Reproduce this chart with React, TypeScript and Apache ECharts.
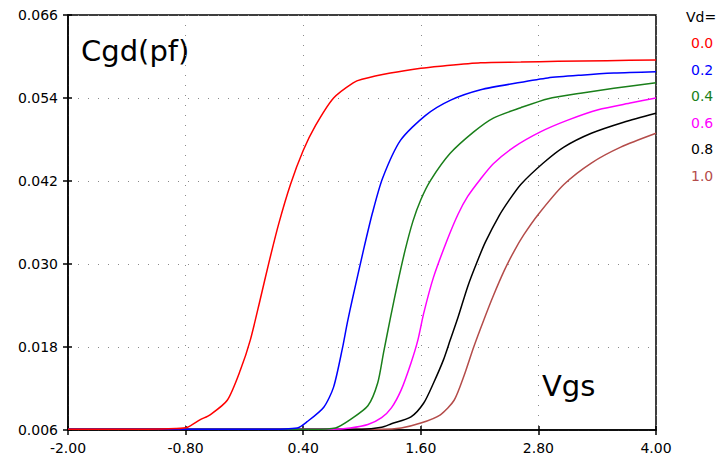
import React, { useEffect, useRef } from "react";
import * as echarts from "echarts";

const FONT = "DejaVu Sans";

const legendTitle = "Vd=";
const seriesNames = ["0.0", "0.2", "0.4", "0.6", "0.8", "1.0"];
const seriesColors = ["#ff0000", "#0000ff", "#1a7f1a", "#ff00ff", "#000000", "#b44c4a"];

const xTicks = { min: -2, max: 4, interval: 1.2 };
const yTicks = { min: 0.006, max: 0.066, interval: 0.012 };

const vd00: [number, number][] = [
  [-2.0, 0.0061], [-1.2, 0.0061], [-0.9, 0.0062], [-0.78, 0.0064], [-0.65, 0.0075],
  [-0.55, 0.0082], [-0.375, 0.0103], [-0.24, 0.0147], [-0.14, 0.019], [-0.04, 0.0248],
  [0.05, 0.0302], [0.15, 0.0358], [0.27, 0.0415], [0.4, 0.0464], [0.525, 0.05],
  [0.71, 0.054], [0.91, 0.0562], [1.0, 0.0567], [1.29, 0.0576], [1.6, 0.0583],
  [1.8, 0.0586], [2.21, 0.0591], [2.62, 0.0592], [3.0, 0.0593], [3.5, 0.0594], [4.0, 0.0595],
];
const vd02: [number, number][] = [
  [-2.0, 0.0061], [0.0, 0.0061], [0.34, 0.0063], [0.44, 0.0072], [0.61, 0.0093],
  [0.71, 0.0122], [0.8, 0.0178], [0.85, 0.0215], [0.9, 0.0248], [1.015, 0.032],
  [1.107, 0.0374], [1.21, 0.0424], [1.394, 0.0479], [1.649, 0.0515], [1.905, 0.0537],
  [2.211, 0.0552], [2.59, 0.0562], [2.896, 0.0569], [3.234, 0.0573], [3.571, 0.0576], [4.0, 0.0578],
];
const vd04: [number, number][] = [
  [-2.0, 0.0061], [0.5, 0.0061], [0.73, 0.0063], [0.88, 0.0075], [1.06, 0.0095],
  [1.16, 0.0128], [1.22, 0.0172], [1.29, 0.0222], [1.36, 0.027], [1.44, 0.032],
  [1.52, 0.0362], [1.6, 0.0393], [1.7, 0.0421], [1.9, 0.046], [2.14, 0.0491],
  [2.34, 0.0511], [2.62, 0.0526], [2.9, 0.0539], [3.23, 0.0547], [3.57, 0.0554], [4.0, 0.0562],
];
const vd06: [number, number][] = [
  [-2.0, 0.0061], [0.7, 0.0061], [0.88, 0.0063], [1.06, 0.0068], [1.2, 0.0078],
  [1.3, 0.0092], [1.4, 0.0118], [1.5, 0.0157], [1.57, 0.019], [1.63, 0.0229],
  [1.73, 0.0281], [1.87, 0.0335], [1.98, 0.0372], [2.08, 0.0398], [2.21, 0.0423],
  [2.34, 0.0445], [2.55, 0.0469], [2.82, 0.0491], [3.1, 0.0508], [3.41, 0.0523],
  [3.75, 0.0533], [4.0, 0.054],
];
const vd08: [number, number][] = [
  [-2.0, 0.0061], [1.0, 0.0061], [1.2, 0.0064], [1.3, 0.0069], [1.5, 0.0079],
  [1.63, 0.0099], [1.73, 0.0128], [1.83, 0.0161], [1.9, 0.019], [1.98, 0.0223],
  [2.08, 0.0268], [2.18, 0.0305], [2.26, 0.0332], [2.4, 0.037], [2.5, 0.0392],
  [2.62, 0.0415], [2.85, 0.0446], [3.06, 0.0469], [3.34, 0.0489], [3.67, 0.0505], [4.0, 0.0518],
];
const vd10: [number, number][] = [
  [-2.0, 0.0061], [1.2, 0.0061], [1.4, 0.0063], [1.6, 0.007], [1.8, 0.0082],
  [1.94, 0.0103], [2.04, 0.0138], [2.14, 0.018], [2.24, 0.0218], [2.34, 0.0254],
  [2.45, 0.029], [2.55, 0.0318], [2.65, 0.0342], [2.8, 0.0372], [3.06, 0.0415],
  [3.34, 0.0446], [3.64, 0.0469], [4.0, 0.0489],
];
const seriesData = [vd00, vd02, vd04, vd06, vd08, vd10];

export default function App() {
  const ref = useRef<HTMLDivElement>(null);
  useEffect(() => {
    document.body.style.margin = "0";
    if (!ref.current) return;
    const chart = echarts.init(ref.current, null, { renderer: "svg" });
    const dotted = { color: "#8a8a8a", width: 1, type: [1, 9] as number[] };
    const tickStyle = { color: "#000", width: 1.5 };
    chart.setOption({
      animation: false,
      backgroundColor: "#ffffff",
      grid: {
        left: 68,
        right: 62,
        top: 15,
        bottom: 26,
        show: true,
        borderColor: "#000",
        borderWidth: 1.5,
        containLabel: false,
      },
      xAxis: [
        {
          type: "value",
          min: xTicks.min,
          max: xTicks.max,
          interval: xTicks.interval,
          position: "bottom",
          axisLine: { show: true, onZero: false, lineStyle: { color: "#000", width: 1.5 } },
          axisTick: { show: true, inside: false, length: 5, lineStyle: tickStyle },
          axisLabel: {
            margin: 11,
            color: "#000",
            fontFamily: FONT,
            fontSize: 14,
            formatter: (v: number) => v.toFixed(2),
          },
          splitLine: { show: true, lineStyle: dotted },
        },
        {
          type: "value",
          min: xTicks.min,
          max: xTicks.max,
          interval: xTicks.interval,
          position: "bottom",
          offset: 0,
          axisLine: { show: false, onZero: false },
          axisTick: { show: true, inside: true, length: 4, lineStyle: tickStyle },
          axisLabel: { show: false },
          splitLine: { show: false },
        },
      ],
      yAxis: [
        {
          type: "value",
          min: yTicks.min,
          max: yTicks.max,
          interval: yTicks.interval,
          position: "left",
          axisLine: { show: true, onZero: false, lineStyle: { color: "#000", width: 1.5 } },
          axisTick: { show: true, inside: false, length: 5, lineStyle: tickStyle },
          axisLabel: {
            margin: 10,
            color: "#000",
            fontFamily: FONT,
            fontSize: 14,
            formatter: (v: number) => v.toFixed(3),
          },
          splitLine: { show: true, lineStyle: dotted },
        },
        {
          type: "value",
          min: yTicks.min,
          max: yTicks.max,
          interval: yTicks.interval,
          position: "left",
          offset: 0,
          axisLine: { show: false, onZero: false },
          axisTick: { show: true, inside: true, length: 4, lineStyle: tickStyle },
          axisLabel: { show: false },
          splitLine: { show: false },
        },
      ],
      legend: {
        show: true,
        orient: "vertical",
        left: 686,
        top: 36,
        padding: 0,
        itemGap: 12.5,
        itemWidth: 0,
        itemHeight: 14,
        icon: "none",
        selectedMode: false,
        textStyle: { fontFamily: FONT, fontSize: 14, padding: 0 },
        data: seriesNames.map((n, i) => ({
          name: n,
          textStyle: { color: seriesColors[i] },
        })),
      },
      graphic: [
        {
          type: "text",
          left: 686,
          top: 10,
          style: { text: legendTitle, fill: "#000", font: `14px "${FONT}"` },
        },
        {
          type: "text",
          x: 81,
          y: 51,
          style: {
            text: "Cgd(pf)",
            fill: "#000",
            font: `29px "${FONT}"`,
            verticalAlign: "middle",
          },
        },
        {
          type: "text",
          x: 542,
          y: 386,
          style: {
            text: "Vgs",
            fill: "#000",
            font: `29px "${FONT}"`,
            verticalAlign: "middle",
          },
        },
      ],
      series: seriesData.map((d, i) => ({
        name: seriesNames[i],
        type: "line",
        xAxisIndex: 0,
        yAxisIndex: 0,
        data: d,
        showSymbol: false,
        symbol: "none",
        smooth: 0.25,
        lineStyle: { color: seriesColors[i], width: 1.5 },
        itemStyle: { color: seriesColors[i] },
        z: 10 - i,
      })),
    });
    return () => chart.dispose();
  }, []);
  return (
    <div
      ref={ref}
      style={{ position: "absolute", left: 0, top: 0, width: 718, height: 456, background: "#fff" }}
    />
  );
}
